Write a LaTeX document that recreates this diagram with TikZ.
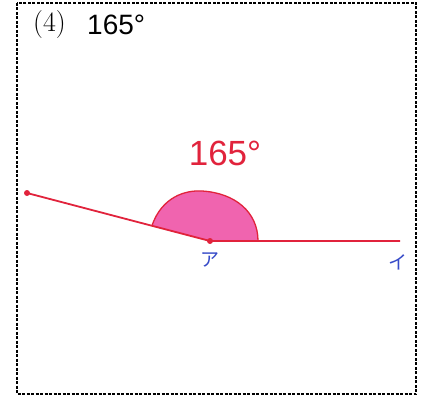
\documentclass[tikz,border=0pt]{standalone}
\usepackage{fontspec}
\newfontfamily\sansf{Liberation Sans}
\newfontfamily\jpf{Noto Sans CJK JP}
\definecolor{redline}{RGB}{225,35,60}
\definecolor{pinkfill}{RGB}{240,100,175}
\definecolor{bluetext}{RGB}{55,75,200}
\begin{document}
\begin{tikzpicture}[x=1pt,y=-1pt,
  frame/.style={draw=black,line width=1.6pt,dash pattern=on 3pt off 1.5pt},
  ray/.style={draw=redline,line width=1.8pt},
  lbl/.style={inner sep=0pt,text=bluetext,font=\jpf\fontsize{19}{19}\selectfont}]
\useasboundingbox (0,0) rectangle (425,398);
\draw[frame] (17,3) rectangle (416,394);
\node[anchor=west,inner sep=0pt,font=\fontsize{28}{28}\selectfont] (num) at (33,25) {(4)};
\node[anchor=west,inner sep=0pt,font=\sansf\fontsize{28}{28}\selectfont] (ttl) at (87,25) {165°};
\coordinate (A) at (210,241);
\coordinate (P) at (27,193);
\coordinate (Q) at (400,241);
\fill[pinkfill] (A) -- (152,225.5) .. controls (162,197) and (185,190) .. (202,191)
  .. controls (235,193) and (258,212) .. (258,241) -- cycle;
\draw[redline,line width=1.3pt] (152,225.5) .. controls (162,197) and (185,190) .. (202,191)
  .. controls (235,193) and (258,212) .. (258,241);
\draw[ray] (P) -- (A) -- (Q);
\fill[redline] (P) circle (3);
\fill[redline] (A) circle (3);
\node[inner sep=0pt,text=redline,font=\sansf\fontsize{35}{35}\selectfont] (ang) at (225,153) {165°};
\node[lbl] (a) at (210,260) {ア};
\node[lbl] (i) at (398,262) {イ};
\end{tikzpicture}
\end{document}
